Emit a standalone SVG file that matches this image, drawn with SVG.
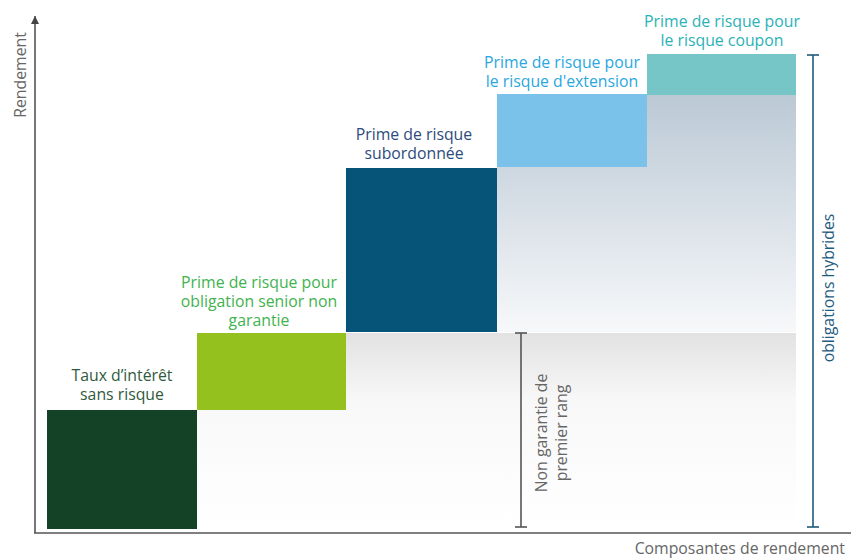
<svg xmlns="http://www.w3.org/2000/svg" width="851" height="559" viewBox="0 0 851 559">
  <defs>
    <linearGradient id="gHybrid" x1="0" y1="0" x2="0" y2="1">
      <stop offset="0" stop-color="#bbc9d5"/>
      <stop offset="1" stop-color="#f7f8fa"/>
    </linearGradient>
    <linearGradient id="gSenior" x1="0" y1="0" x2="0" y2="1">
      <stop offset="0" stop-color="#e2e2e2"/>
      <stop offset="0.35" stop-color="#f8f8f8"/>
      <stop offset="1" stop-color="#ffffff"/>
    </linearGradient>
    <marker id="arrowUp" viewBox="0 0 10 10" refX="10" refY="5" markerWidth="8" markerHeight="8" markerUnits="userSpaceOnUse" orient="auto">
      <path d="M0,0 L10,5 L0,10 Z" fill="#444"/>
    </marker>
  </defs>
  <style>
    text { font-family: "Open Sans", "Liberation Sans", sans-serif; font-size: 15.8px; }
    .mid { text-anchor: middle; }
    .axis { stroke: #555; stroke-width: 1.6; fill: none; }
    .grey { fill: #666; }
  </style>

  <rect width="851" height="559" fill="#ffffff"/>

  <!-- shaded bands behind the blocks -->
  <rect x="197" y="333" width="599" height="196" fill="url(#gSenior)"/>
  <rect x="497" y="95" width="299" height="237" fill="url(#gHybrid)"/>

  <!-- axes -->
  <g id="axes">
    <line class="axis" x1="35" y1="533" x2="35" y2="16" marker-end="url(#arrowUp)"/>
    <line class="axis" x1="34" y1="533" x2="851" y2="533"/>
    <text class="grey" transform="translate(26,75) rotate(-90)" text-anchor="middle">Rendement</text>
    <text class="grey" x="845" y="554" text-anchor="end">Composantes de rendement</text>
  </g>

  <g id="taux-sans-risque">
    <rect x="47" y="410" width="150" height="119" fill="#134226"/>
    <text class="mid" fill="#2f5a3e" x="122" y="381">Taux d’intérêt</text>
    <text class="mid" fill="#2f5a3e" x="122" y="400">sans risque</text>
  </g>

  <g id="prime-senior">
    <rect x="197" y="333" width="149" height="77" fill="#95c11f"/>
    <text class="mid" fill="#3fb34f" x="259" y="288">Prime de risque pour</text>
    <text class="mid" fill="#3fb34f" x="259" y="307">obligation senior non</text>
    <text class="mid" fill="#3fb34f" x="259" y="326">garantie</text>
  </g>

  <g id="prime-subordonnee">
    <rect x="346" y="168" width="151" height="164" fill="#065578"/>
    <text class="mid" fill="#2e4b7c" x="414" y="140">Prime de risque</text>
    <text class="mid" fill="#2e4b7c" x="414" y="159">subordonnée</text>
  </g>

  <g id="prime-extension">
    <rect x="497" y="94" width="150" height="73" fill="#7ac2ea"/>
    <text class="mid" fill="#2aa7df" x="562" y="68">Prime de risque pour</text>
    <text class="mid" fill="#2aa7df" x="562" y="87">le risque d'extension</text>
  </g>

  <g id="prime-coupon">
    <rect x="647" y="54" width="149" height="41" fill="#76c6c8"/>
    <text class="mid" fill="#2bb2b7" x="722" y="27">Prime de risque pour</text>
    <text class="mid" fill="#2bb2b7" x="722" y="46">le risque coupon</text>
  </g>

  <!-- range brackets -->
  <g id="connectors">
    <g id="bracket-non-garantie" stroke="#555" stroke-width="1.6">
      <line x1="521" y1="333" x2="521" y2="527"/>
      <line x1="515" y1="333" x2="527" y2="333"/>
      <line x1="515" y1="527" x2="527" y2="527"/>
    </g>
    <g id="bracket-hybrides" stroke="#1f5a7a" stroke-width="1.6">
      <line x1="813" y1="55" x2="813" y2="527"/>
      <line x1="807" y1="55" x2="819" y2="55"/>
      <line x1="807" y1="527" x2="819" y2="527"/>
    </g>
  </g>

  <g id="label-non-garantie">
    <text class="mid grey" transform="translate(547,433) rotate(-90)">Non garantie de</text>
    <text class="mid grey" transform="translate(567,433) rotate(-90)">premier rang</text>
  </g>
  <g id="label-hybrides">
    <text class="mid" fill="#1f5c80" transform="translate(834,288) rotate(-90)">obligations hybrides</text>
  </g>
</svg>
